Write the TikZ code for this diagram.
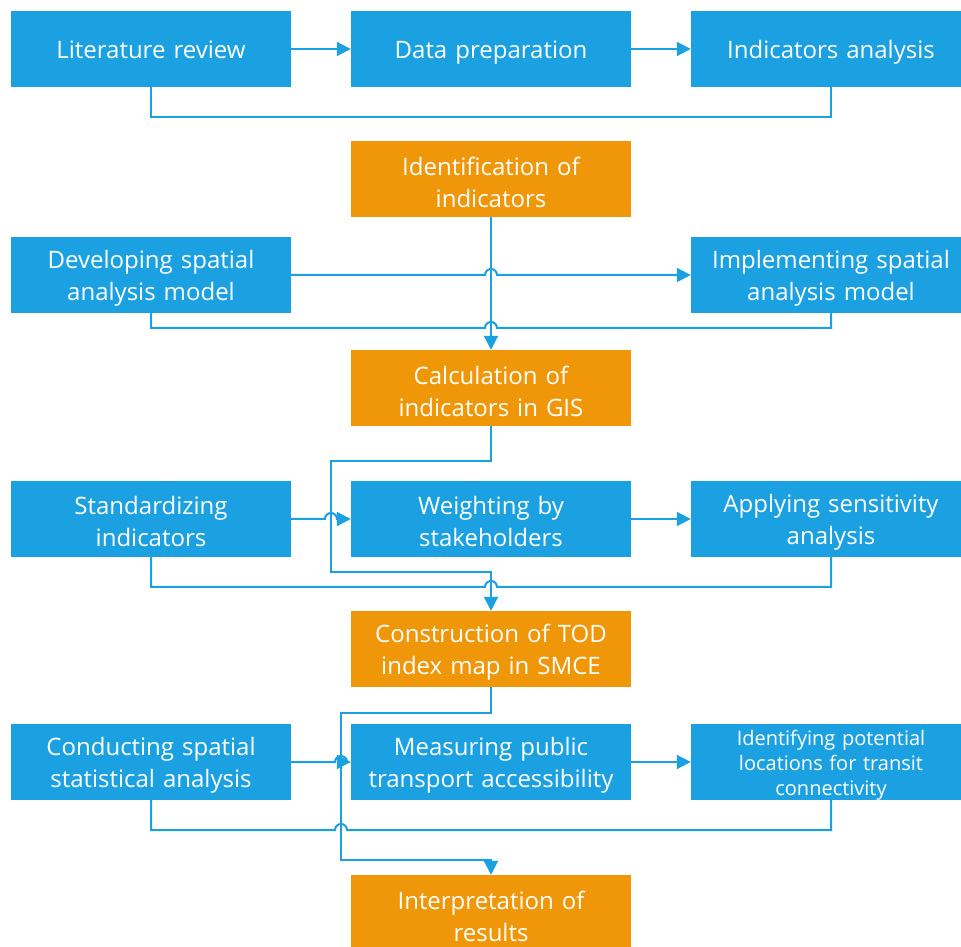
\documentclass[tikz,border=0pt]{standalone}
\usepackage{fontspec}
\setmainfont{Open Sans}
\usetikzlibrary{arrows.meta}
\definecolor{metroblue}{RGB}{27,161,226}
\definecolor{metroorange}{RGB}{240,150,9}
\newcommand{\boxtail}{\endgraf\vspace*{-6pt}}
\begin{document}
\begin{tikzpicture}[x=1pt,y=1pt,
  box/.style={fill=metroblue,text=white,minimum width=280pt,minimum height=76pt,
    text width=276pt,inner xsep=2pt,inner ysep=0pt,align=center,
    font=\fontsize{24}{32}\selectfont,
    execute at end node=\boxtail},
  keybox/.style={box,fill=metroorange},
  smallbox/.style={box,font=\fontsize{20}{25}\selectfont},
  conn/.style={draw=metroblue,line width=2pt},
  flow/.style={conn,-{Triangle[length=14pt,width=14pt]}}]
\useasboundingbox (0,0) rectangle (961,946);

% process boxes
\node[box] (lit) at (151,897) {\strut Literature review};
\node[box] (data) at (491,897) {\strut Data preparation};
\node[box] (ind) at (831,897) {\strut Indicators analysis};
\node[keybox] (ident) at (491,767) {Identification of\\indicators};
\node[box] (dev) at (151,671) {Developing spatial\\analysis model};
\node[box] (impl) at (831,671) {Implementing spatial\\analysis model};
\node[keybox] (calc) at (491,558) {Calculation of\\indicators in GIS};
\node[box] (std) at (151,427) {Standardizing\\indicators};
\node[box] (weight) at (491,427) {Weighting by\\stakeholders};
\node[box] (sens) at (831,427) {Applying sensitivity\\analysis};
\node[keybox] (constr) at (491,297) {Construction of TOD\\index map in SMCE};
\node[box] (stat) at (151,184) {Conducting spatial\\statistical analysis};
\node[box] (meas) at (491,184) {Measuring public\\transport accessibility};
\node[smallbox] (loc) at (831,184) {Identifying potential\\locations for transit\\connectivity};
\node[keybox] (interp) at (491,33) {Interpretation of\\results};

% turning points of the routed connectors
\coordinate (r2) at (331,374);
\coordinate (r3) at (341,86);

% stage 1
\draw[flow] (lit) -- (data);
\draw[flow] (data) -- (ind);
\draw[conn] (lit.south) -- (lit.south |- 0,829) -| (ind.south);

% stage 2
\draw[flow] (ident.south) -- (calc.north);
\draw[flow] (dev.east) -- ([xshift=-6pt]ident.south |- dev.east)
  arc[start angle=180,end angle=0,radius=6pt] -- (impl.west);
\draw[conn] (dev.south) -- (dev.south |- 0,618) -- ([xshift=-6pt]ident.south |- 0,618)
  arc[start angle=180,end angle=0,radius=6pt] -| (impl.south);

% stage 3
\draw[flow] (calc.south) -- (calc.south |- 0,485) -| (r2) -| (constr.north);
\draw[flow] (std.east) -- ([xshift=-6pt]r2 |- std.east)
  arc[start angle=180,end angle=0,radius=6pt] -- (weight.west);
\draw[flow] (weight) -- (sens);
\draw[conn] (std.south) -- (std.south |- 0,359) -- ([xshift=-6pt]constr.north |- 0,359)
  arc[start angle=180,end angle=0,radius=6pt] -| (sens.south);

% stage 4
\draw[flow] (constr.south) -- (constr.south |- 0,233) -| (r3) -| (interp.north);
\draw[flow] (stat.east) -- ([xshift=-6pt]r3 |- stat.east)
  arc[start angle=180,end angle=0,radius=6pt] -- (meas.west);
\draw[flow] (meas) -- (loc);
\draw[conn] (stat.south) -- (stat.south |- 0,116) -- ([xshift=-6pt]r3 |- 0,116)
  arc[start angle=180,end angle=0,radius=6pt] -| (loc.south);
\end{tikzpicture}
\end{document}
